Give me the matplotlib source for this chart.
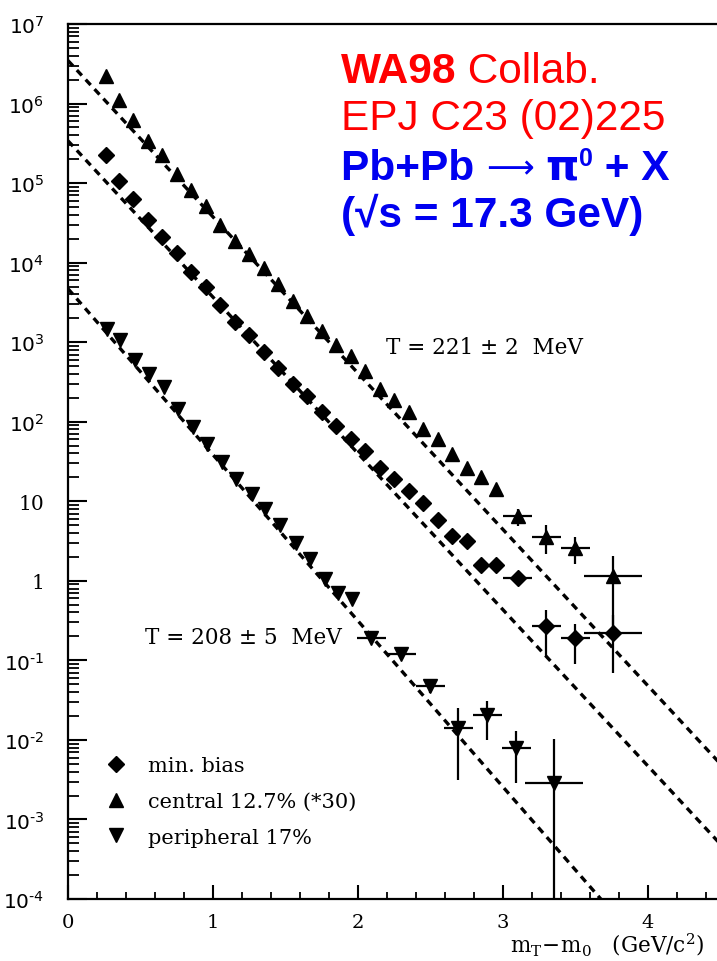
import numpy as np
import matplotlib
matplotlib.use("Agg")
import matplotlib.pyplot as plt
from matplotlib.ticker import LogLocator, MultipleLocator, FuncFormatter, NullFormatter

# pi0 transverse mass spectra, Pb+Pb at 158 AGeV
mb_x = [0.26, 0.35, 0.45, 0.55, 0.65, 0.75, 0.85, 0.95, 1.05, 1.15, 1.25, 1.35, 1.45,
        1.55, 1.65, 1.75, 1.85, 1.95, 2.05, 2.15, 2.25, 2.35, 2.45, 2.55, 2.65, 2.75,
        2.85, 2.95, 3.10, 3.30, 3.50, 3.76]
mb_y = [2.24e5, 1.05e5, 6.3e4, 3.47e4, 2.09e4, 1.32e4, 7.6e3, 4.9e3, 2.95e3, 1.78e3,
        1.23e3, 760, 480, 295, 209, 132, 89, 60, 43, 26, 19, 13.5, 9.5, 5.8, 3.7, 3.2,
        1.57, 1.57, 1.10, 0.27, 0.19, 0.22]
mb_yerr = [0] * 26 + [0.2, 0.2, 0.15, 0.16, 0.10, 0.15]
mb_xerr = [0] * 28 + [0.1, 0.1, 0.1, 0.2]

cen_x = [0.26, 0.35, 0.45, 0.55, 0.65, 0.75, 0.85, 0.95, 1.05, 1.15, 1.25, 1.35, 1.45,
         1.55, 1.65, 1.75, 1.85, 1.95, 2.05, 2.15, 2.25, 2.35, 2.45, 2.55, 2.65, 2.75,
         2.85, 2.95, 3.10, 3.30, 3.50, 3.76]
cen_y = [2.24e6, 1.12e6, 6.3e5, 3.4e5, 2.24e5, 1.29e5, 8.3e4, 5.1e4, 3.0e4, 1.86e4,
         1.29e4, 8.5e3, 5.4e3, 3.3e3, 2.14e3, 1.38e3, 930, 680, 440, 257, 190, 132, 81,
         60, 39, 26, 20, 14.1, 6.5, 3.6, 2.6, 1.15]
cen_yerr = [0] * 28 + [1.6, 1.4, 0.95, 0.9]
cen_xerr = [0] * 28 + [0.1, 0.1, 0.1, 0.2]

per_x = [0.27, 0.36, 0.46, 0.56, 0.66, 0.76, 0.86, 0.96, 1.06, 1.16, 1.27, 1.36, 1.46,
         1.57, 1.67, 1.77, 1.86, 1.96, 2.09, 2.30, 2.50, 2.69, 2.89, 3.09, 3.35]
per_y = [1480, 1050, 590, 400, 270, 145, 85, 52, 31, 19, 12.3, 7.9, 5.1, 3.0, 1.86,
         1.05, 0.71, 0.59, 0.193, 0.119, 0.047, 0.0141, 0.0204, 0.0079, 0.0029]
per_yerr = [0] * 18 + [0.02, 0.015, 0.008, 0.011, 0.0105, 0.005, 0.0075]
per_xerr = [0] * 18 + [0.1, 0.1, 0.1, 0.1, 0.1, 0.1, 0.2]

# exponential fits dN ~ A exp(-(mT-m0)/T), T in GeV
fit_T = {"cen": 0.221, "mb": 0.221, "per": 0.208}
fit_A = {"cen": 3.47e6, "mb": 3.4e5, "per": 4.7e3}

labels = ["min. bias", "central 12.7% (*30)", "peripheral 17%"]

W, H = 717, 962
fig = plt.figure(figsize=(W / 100, H / 100), dpi=100)
ax = fig.add_axes([68 / W, 62 / H, 652.5 / W, 875 / H])

plt.rcParams["mathtext.fontset"] = "dejavuserif"
serif = "DejaVu Serif"

xf = np.linspace(0, 4.5, 200)
for key in ["cen", "mb", "per"]:
    ax.plot(xf, fit_A[key] * np.exp(-xf / fit_T[key]), color="black", lw=2.4,
            linestyle=(0, (2.2, 1.7)))

series = [
    (mb_x, mb_y, mb_xerr, mb_yerr, "D", 8),
    (cen_x, cen_y, cen_xerr, cen_yerr, "^", 10),
    (per_x, per_y, per_xerr, per_yerr, "v", 10),
]
for (x, y, xe, ye, m, ms), lab in zip(series, labels):
    ax.errorbar(x, y, xerr=xe, yerr=ye, fmt="none", ecolor="black", elinewidth=1.6)
    ax.plot(x, y, linestyle="none", marker=m, ms=ms, color="black", label=lab)

ax.set_yscale("log")
ax.set_xlim(0, 4.5)
ax.set_ylim(1e-4, 1e7)

def ylab(v, pos):
    e = int(round(np.log10(v)))
    if e == 0:
        return "1"
    if e == 1:
        return "10"
    if e < 0:
        return "$10^{\u2010%d}$" % -e
    return "$10^{%d}$" % e

ax.yaxis.set_major_locator(LogLocator(base=10, numticks=20))
ax.yaxis.set_minor_locator(LogLocator(base=10, subs=np.arange(2, 10), numticks=20))
ax.yaxis.set_major_formatter(FuncFormatter(ylab))
ax.yaxis.set_minor_formatter(NullFormatter())
ax.xaxis.set_major_locator(MultipleLocator(1))
ax.xaxis.set_minor_locator(MultipleLocator(0.2))

ax.tick_params(axis="y", which="major", direction="in", length=14, width=1.5,
               labelsize=14.5, pad=17, right=False)
ax.tick_params(axis="y", which="minor", direction="in", length=8, width=1.3, right=False)
ax.tick_params(axis="x", which="major", direction="in", length=10, width=1.5,
               labelsize=14, pad=10, top=False)
ax.tick_params(axis="x", which="minor", direction="in", length=5, width=1.3, top=False)
for lab in ax.get_xticklabels() + ax.get_yticklabels():
    lab.set_fontfamily(serif)
for sp in ax.spines.values():
    sp.set_linewidth(1.6)

ax.text(2.19, 10 ** 2.94, "T = 221 ± 2  MeV", fontsize=15.5, family=serif, va="center")
ax.text(0.53, 10 ** -0.71, "T = 208 ± 5  MeV", fontsize=15.5, family=serif, va="center")

ax.legend(loc="upper left", bbox_to_anchor=(0.058, 0.163), frameon=False,
          prop={"family": serif, "size": 15}, handlelength=1.0, handletextpad=1.0,
          labelspacing=0.8, borderpad=0, borderaxespad=0, numpoints=1)

fig.text(510 / W, 1 - 945 / H, r"$\mathrm{m_T\!-\!m_0}$   (GeV/c$^2$)", fontsize=15.5,
         family=serif, va="center")

# header block, placed piece by piece in pixel coordinates
sans = "Liberation Sans"
red, blue = "#ff0000", "#0000f0"
fs = 30.5
renderer = fig.canvas.get_renderer()

def line(pieces, x0, base):
    x = x0
    for txt, color, weight, size, dy, fam in pieces:
        t = fig.text(x / W, 1 - (base - dy) / H, txt, color=color, fontsize=size,
                     fontweight=weight, family=fam, va="baseline", ha="left")
        bb = t.get_window_extent(renderer)
        x += bb.width

line([("WA98", red, "bold", fs, 0, sans), (" Collab.", red, "normal", fs, 0, sans)], 341, 83)
line([("EPJ C23 (02)225", red, "normal", fs, 0, sans)], 341, 130)
line([("Pb+Pb ", blue, "bold", fs, 0, sans), ("\u27f6", blue, "normal", 24, 2, "DejaVu Sans"),
      (" ", blue, "bold", fs, 0, sans), ("π", blue, "bold", fs, 0, "DejaVu Sans"),
      ("0", blue, "bold", 18, 14, sans), (" + X", blue, "bold", fs, 0, sans)], 341, 180)
line([("(√s = 17.3 GeV)", blue, "bold", fs, 0, sans)], 341, 227)

fig.savefig("out.png", dpi=100)
